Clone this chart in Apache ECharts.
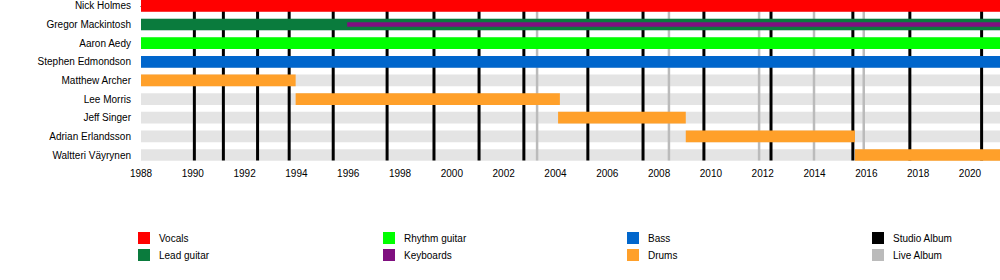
<!DOCTYPE html>
<html>
<head>
<meta charset="utf-8">
<script src="https://cdn.jsdelivr.net/npm/echarts@6/dist/echarts.min.js"></script>
<style>html,body{margin:0;padding:0;background:#fff}#c{width:1000px;height:280px}</style>
</head>
<body>
<div id="c"></div>
<script>
const START = 1988;
const END = 2021.16;
const members = ["Nick Holmes","Gregor Mackintosh","Aaron Aedy","Stephen Edmondson","Matthew Archer","Lee Morris","Jeff Singer","Adrian Erlandsson","Waltteri Väyrynen"];
// [start, end, row]
const vocals = [[1988, END, 0]];
const leadGuitar = [[1988, END, 1]];
const rhythmGuitar = [[1988, END, 2]];
const keyboards = [[1995.96, END, 1]];
const bass = [[1988, END, 3]];
const drums = [[1988, 1993.97, 4],[1993.97, 2004.17, 5],[2004.1, 2009.03, 6],[2009.03, 2015.56, 7],[2015.56, END, 8]];
const studioAlbums = [1990.06, 1991.18, 1992.5, 1993.72, 1995.42, 1997.5, 1999.31, 2001.05, 2002.78, 2005.25, 2007.38, 2009.73, 2012.32, 2015.48, 2017.68, 2020.45];
const liveAlbums = [2003.29, 2008.38, 2011.86, 2013.98, 2015.9];
const rows = members.map((m, i) => [START, END, i]);

const FONT = '"Liberation Sans", Arial, sans-serif';
const chart = echarts.init(document.getElementById('c'), null, {renderer: 'svg'});

function barRender(h) {
  return function (params, api) {
    const s = api.coord([api.value(0), api.value(2)]);
    const e = api.coord([api.value(1), api.value(2)]);
    return {type: 'rect', shape: {x: s[0], y: s[1] - h / 2, width: e[0] - s[0], height: h},
      style: {fill: api.visual('color')}};
  };
}
function lineRender(w) {
  return function (params, api) {
    const cs = params.coordSys;
    const x = api.coord([api.value(0), 0])[0];
    return {type: 'line', shape: {x1: x, y1: cs.y, x2: x, y2: cs.y + cs.height},
      style: {stroke: api.visual('color'), lineWidth: w}};
  };
}
function barSeries(name, data, color, h, z) {
  return {type: 'custom', name: name, data: data, renderItem: barRender(h), itemStyle: {color: color},
    encode: {x: [0, 1], y: 2}, z: z, silent: true};
}
function legendAt(left, names) {
  return {orient: 'vertical', left: left, top: 232, padding: 0, itemWidth: 12, itemHeight: 12, itemGap: 5,
    icon: 'rect', data: names, selectedMode: false,
    textStyle: {fontFamily: FONT, fontSize: 10, color: '#000', padding: [0, 0, 0, 4]}};
}

chart.setOption({
  animation: false,
  grid: {left: 141, right: 0, top: 0, height: 160.5, outerBoundsMode: 'none', containLabel: false},
  xAxis: {type: 'value', min: START, max: END, interval: 1,
    axisLine: {lineStyle: {color: '#000', width: 1}},
    axisTick: {length: 5, lineStyle: {color: '#000'}},
    splitLine: {show: false},
    axisLabel: {fontFamily: FONT, fontSize: 10, color: '#000', margin: 8,
      formatter: v => (Number.isInteger(v) && v % 2 === 0) ? String(v) : ''}},
  yAxis: {type: 'value', inverse: true, min: -0.313, max: 8.294,
    axisLine: {show: false}, axisTick: {show: false}, splitLine: {show: false},
    axisLabel: {customValues: members.map((m, i) => i), fontFamily: FONT, fontSize: 10, color: '#000', margin: 10,
      formatter: v => members[v] || ''}},
  legend: [
    legendAt(138, ['Vocals', 'Lead guitar']),
    legendAt(383, ['Rhythm guitar', 'Keyboards']),
    legendAt(627, ['Bass', 'Drums']),
    legendAt(872, ['Studio Album', 'Live Album'])
  ],
  series: [
    barSeries('rows', rows, '#e4e4e4', 11.7, 1),
    {type: 'custom', name: 'Studio Album', data: studioAlbums.map(v => [v]), renderItem: lineRender(3),
      itemStyle: {color: '#000000'}, encode: {x: 0}, z: 2, silent: true},
    {type: 'custom', name: 'Live Album', data: liveAlbums.map(v => [v]), renderItem: lineRender(2.5),
      itemStyle: {color: '#bbbbbb'}, encode: {x: 0}, z: 2, silent: true},
    barSeries('Vocals', vocals, '#ff0000', 11.7, 3),
    barSeries('Lead guitar', leadGuitar, '#0a7b3d', 11.7, 3),
    barSeries('Rhythm guitar', rhythmGuitar, '#00ff00', 11.7, 3),
    barSeries('Bass', bass, '#0066cc', 11.7, 3),
    barSeries('Drums', drums, '#ffa02a', 11.7, 3),
    barSeries('Keyboards', keyboards, '#7f0f7f', 4.5, 4)
  ]
});
</script>
</body>
</html>
